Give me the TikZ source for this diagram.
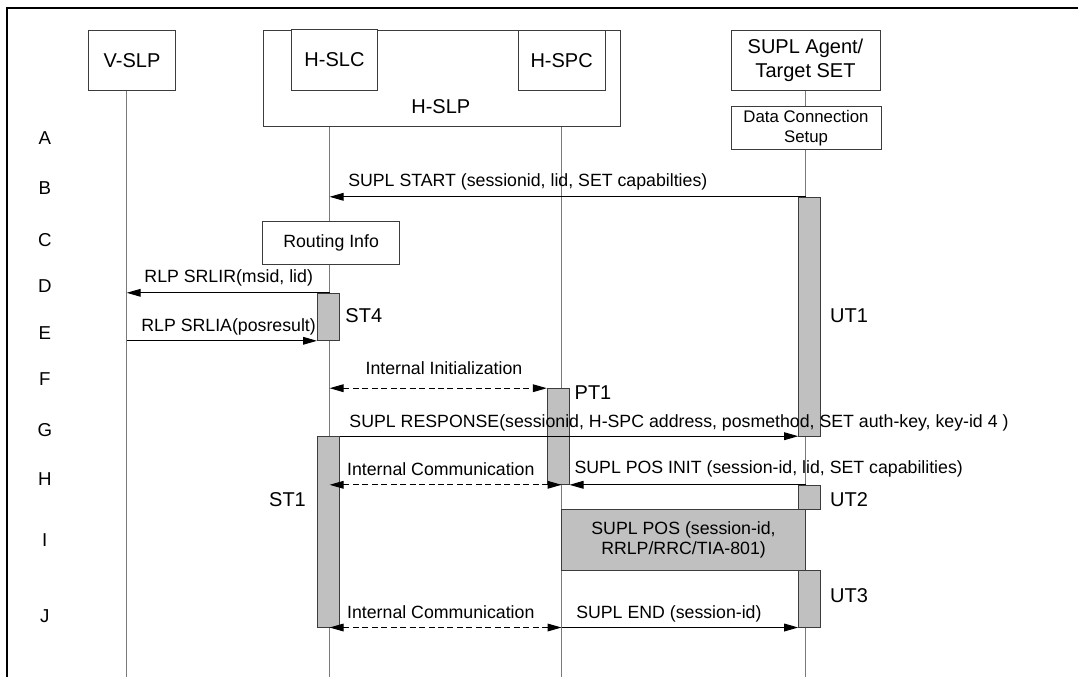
\documentclass[tikz,border=0pt]{standalone}
\usepackage{fontspec}
\setmainfont{Liberation Sans}
\usetikzlibrary{arrows.meta,fit}
\definecolor{barfill}{HTML}{C0C0C0}
\definecolor{lifegray}{HTML}{7A7A7A}
\definecolor{edgegray}{HTML}{3C3C3C}
\begin{document}
\begin{tikzpicture}[x=0.75pt,y=-0.75pt,
  box/.style={draw=edgegray, line width=0.75pt, inner sep=0pt, align=center,
    font=\fontsize{15}{18}\selectfont},
  bsize/.style 2 args={minimum width=#1*0.75pt, minimum height=#2*0.75pt},
  bar/.style={draw=edgegray, fill=barfill, line width=0.75pt, inner sep=0pt},
  life/.style={draw=lifegray, line width=0.75pt},
  tip/.tip={Triangle[length=10.5pt,width=5.8pt]},
  msg/.style={draw=black, line width=0.75pt, -tip},
  imsg/.style={draw=black, line width=0.75pt, tip-tip, dash pattern=on 4.5pt off 2.6pt},
  lbl/.style={inner sep=0pt, font=\fontsize{13.3}{15}\selectfont},
  tag/.style={inner sep=0pt, font=\fontsize{15}{18}\selectfont},
  rowlbl/.style={inner sep=0pt, font=\fontsize{14}{16}\selectfont}]
\useasboundingbox (0,0) rectangle (1078,676);
% frame
\draw[line width=1.5pt, line join=miter] (7,690) -- (7,7.7) -- (1090,7.7);

% lifeline anchors
\coordinate (vL) at (126.7,90.3);  \coordinate (vE) at (126.7,690);
\coordinate (sL) at (329.6,126);   \coordinate (sE) at (329.6,690);
\coordinate (pL) at (561.5,126);   \coordinate (pE) at (561.5,690);
\coordinate (aL) at (805.6,90.3);  \coordinate (aE) at (805.6,690);
\draw[life] (vL) -- (vE);
\draw[life] (sL) -- (sE);
\draw[life] (pL) -- (pE);
\draw[life] (aL) -- (aE);

% header boxes
\node[box, bsize={87.4}{60.3}] (vslp) at (132,60.15) {V-SLP};
\node[box, fit={(263.3,30.3)(620,126)}] (hslp) {};
\node[tag] (hslptxt) at (440.8,106.7) {H-SLP};
\node[box, fill=white, bsize={86.4}{61}] (hslc) at (334.5,59.8) {H-SLC};
\node[box, fill=white, bsize={86.7}{60}] (hspc) at (561.65,60.3) {H-SPC};
\node[box, fill=white, bsize={149}{60.3}] (agent) at (805.5,60.15) {SUPL Agent/\\Target SET};
\node[box, fill=white, bsize={150}{43.4},
      font=\fontsize{12.6}{14.8}\selectfont] (dcs) at (806,128) {Data Connection\\Setup};

% row letters
\node[rowlbl] (rA) at (44.8,138) {A};
\node[rowlbl] (rB) at (44.8,188) {B};
\node[rowlbl] (rC) at (44.8,240) {C};
\node[rowlbl] (rD) at (44.8,286) {D};
\node[rowlbl] (rE) at (44.8,333) {E};
\node[rowlbl] (rF) at (44.8,378.7) {F};
\node[rowlbl] (rG) at (44.8,430.3) {G};
\node[rowlbl] (rH) at (44.8,478.7) {H};
\node[rowlbl] (rI) at (44.8,540) {I};
\node[rowlbl] (rJ) at (44.8,616) {J};

% routing info
\node[box, fill=white, bsize={137.4}{43.3},
      font=\fontsize{13.3}{15}\selectfont] (route) at (331.1,242.65) {Routing Info};

% activation bars
\node[bar, fit={(798.7,197.3)(820.4,436)}] (ut1) {};
\node[bar, fit={(317.5,293.3)(339.9,340.3)}] (st4) {};
\node[bar, fit={(547.3,388.7)(569,484.3)}] (pt1) {};
\node[bar, fit={(317.5,436.7)(339.9,627)}] (st1) {};
\node[bar, fit={(798.7,485)(820.4,509.3)}] (ut2) {};
\node[bar, fit={(798.7,570.7)(820.4,627.7)}] (ut3) {};
\node[bar, bsize={244.1}{60.3}, align=center,
      font=\fontsize{13.3}{15}\selectfont] (suplpos) at (683.55,539.85) {SUPL POS (session-id,\\RRLP/RRC/TIA-801)};

% bar tags
\node[tag] (tUT1) at (849,316) {UT1};
\node[tag] (tST4) at (363.8,316) {ST4};
\node[tag] (tPT1) at (593,392.7) {PT1};
\node[tag] (tST1) at (287.5,500) {ST1};
\node[tag] (tUT2) at (849,499.3) {UT2};
\node[tag] (tUT3) at (849,596) {UT3};

% messages
\draw[msg] (aL |- ut1.north) -- (sL |- ut1.north);
\node[lbl] (mB) at (527.8,181.7) {SUPL START (sessionid, lid, SET capabilties)};

\draw[msg] (sL |- st4.north) -- (vL |- st4.north);
\node[lbl] (mD) at (228.7,277.7) {RLP SRLIR(msid, lid)};

\draw[msg] (vL |- st4.south) -- (st4.south west);
\node[lbl] (mE) at (228.6,326.7) {RLP SRLIA(posresult)};

\draw[imsg] (sL |- pt1.north) -- (pt1.north west);
\node[lbl] (mF) at (444,367.7) {Internal Initialization};

\draw[msg] (st1.north east) -- (ut1.west |- st1.north);
\node[lbl] (mG) at (679,422.7) {SUPL RESPONSE(sessionid, H-SPC address, posmethod, SET auth-key, key-id 4 )};

\draw[imsg] (sL |- pt1.south) -- (pL |- pt1.south);
\node[lbl] (mH1) at (440.8,469.3) {Internal Communication};

\draw[msg] (aL |- pt1.south) -- (pt1.south east);
\node[lbl] (mH2) at (768.7,468.7) {SUPL POS INIT (session-id, lid, SET capabilities)};

\draw[imsg] (sL |- st1.south) -- (pL |- st1.south);
\node[lbl] (mJ1) at (440.8,611.7) {Internal Communication};

\draw[msg] (pL |- st1.south) -- (ut3.west |- st1.south);
\node[lbl] (mJ2) at (668.9,614.3) {SUPL END (session-id)};
\end{tikzpicture}
\end{document}
